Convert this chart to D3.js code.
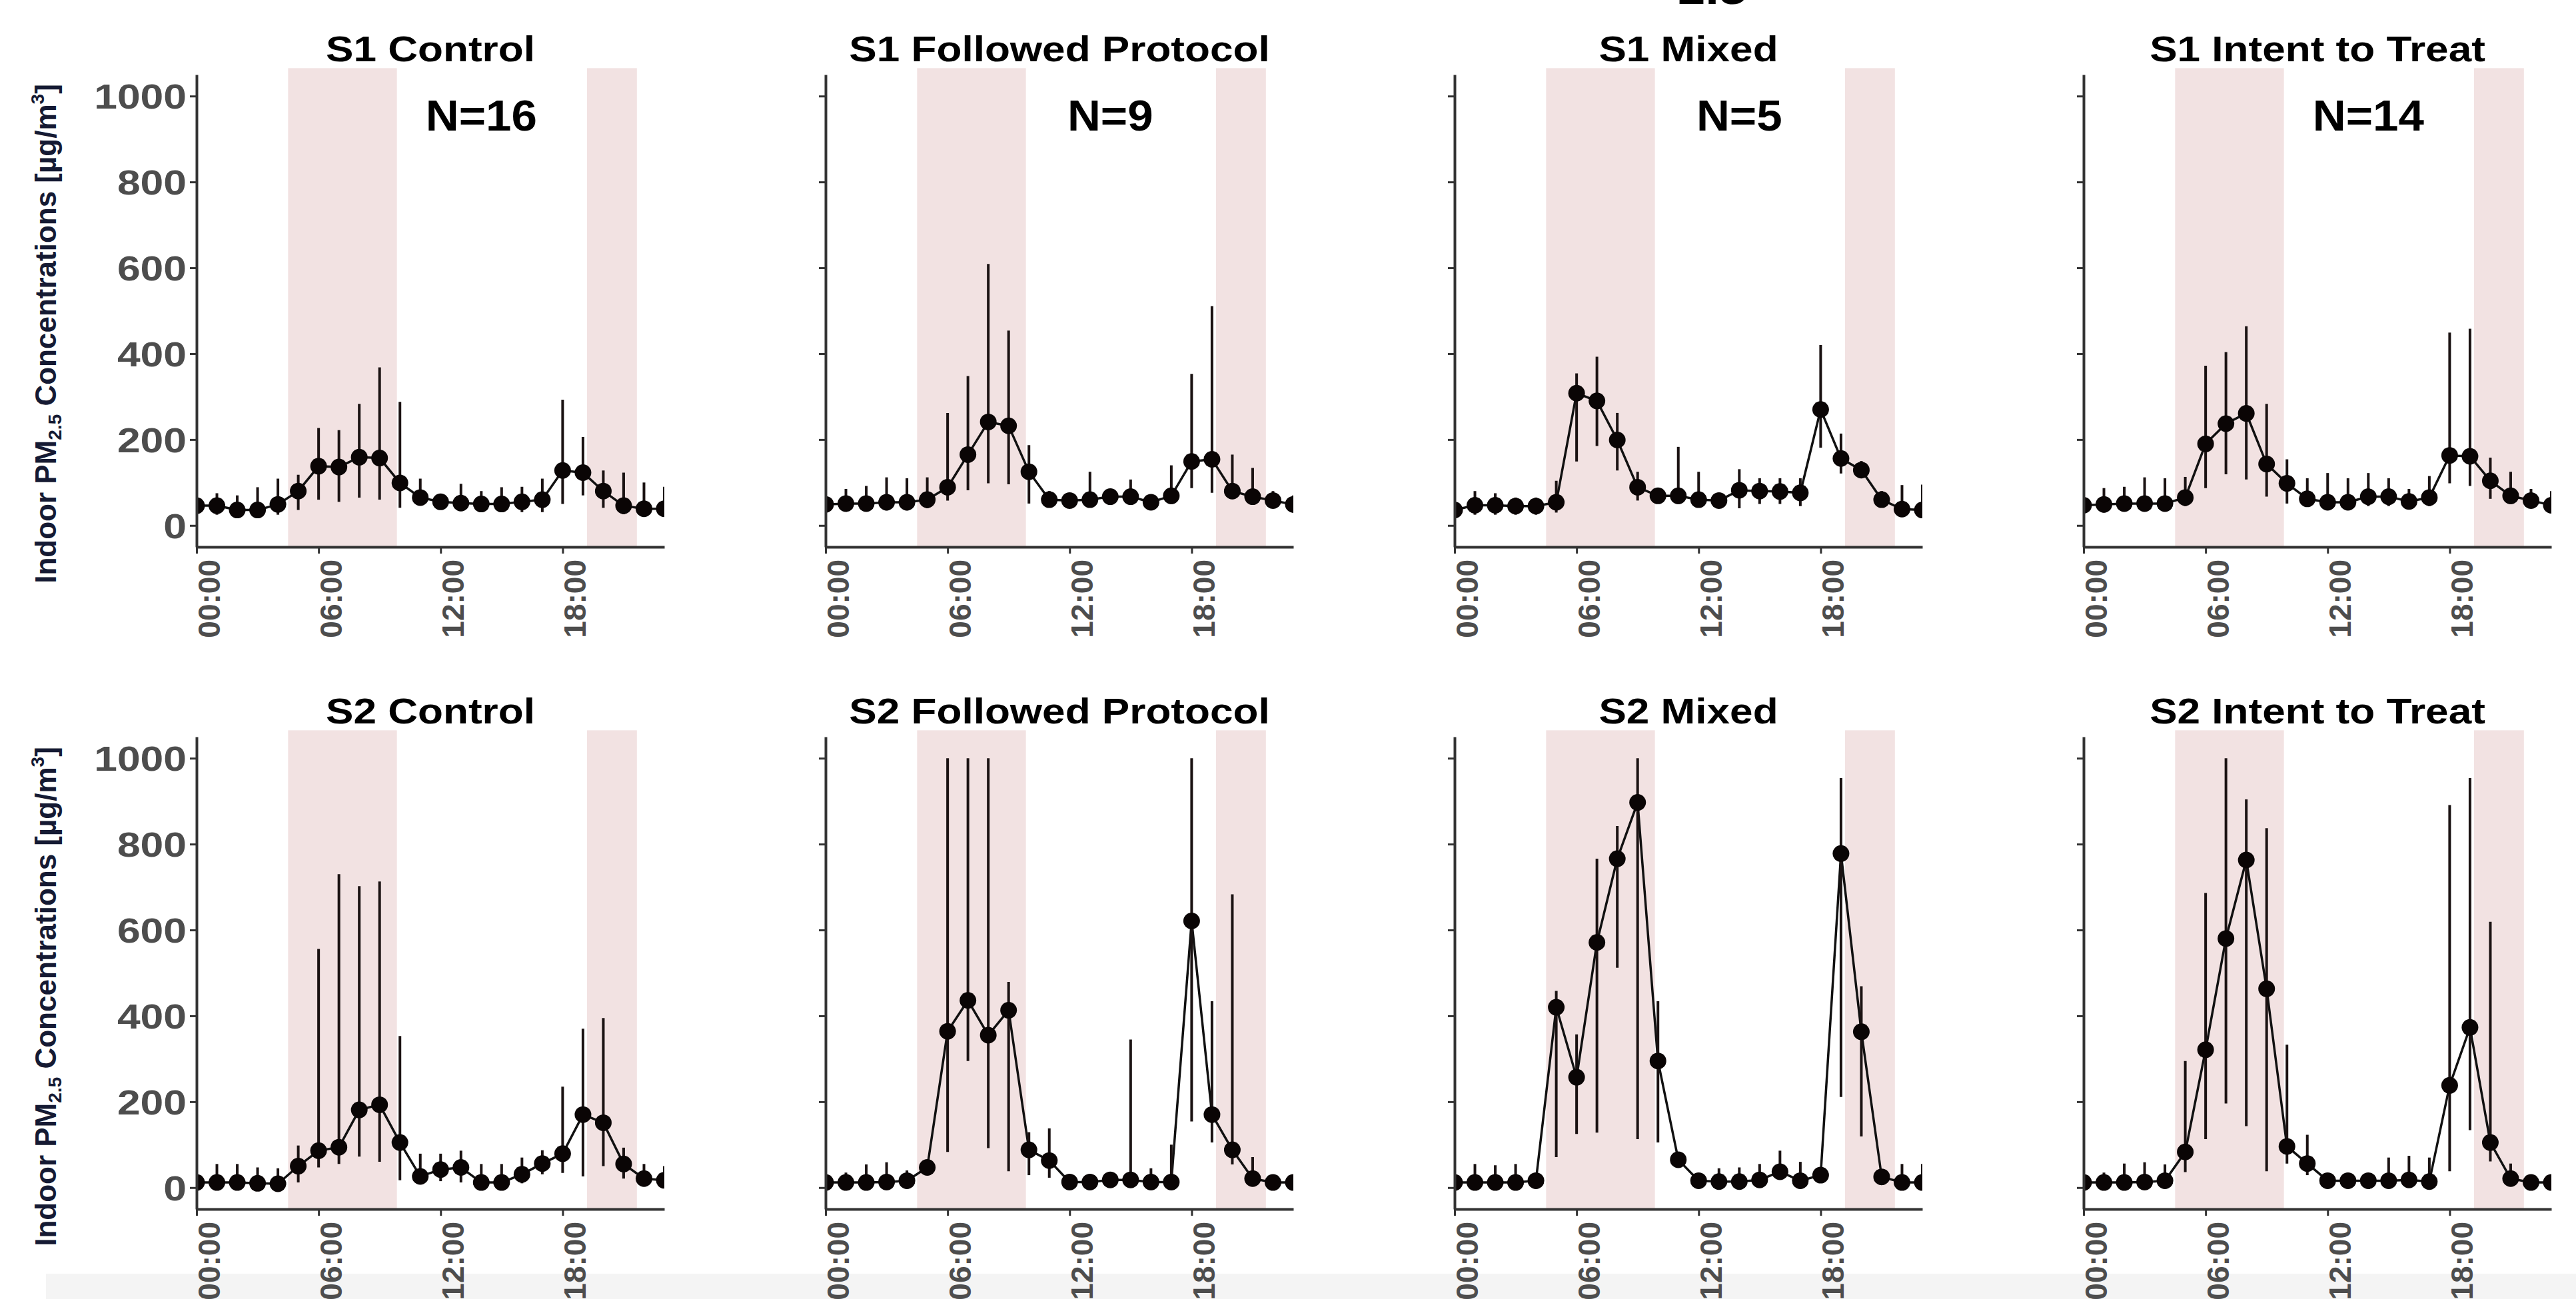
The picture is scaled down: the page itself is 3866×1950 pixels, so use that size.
<!DOCTYPE html>
<html>

<head>
  <meta charset="UTF-8">
  <title>Indoor PM2.5 by hour of day</title>
  <script src="https://d3js.org/d3.v7.min.js"></script>
  <style>
    body {
      margin: 0;
      background: #fff;
    }

    svg {
      display: block;
      font-family: "Liberation Sans", Arial, sans-serif;
      font-weight: bold;
    }

    .axis path,
    .axis line {
      stroke: #333;
    }

    .axis text {
      fill: #4d4d4d;
      font-weight: bold;
    }
  </style>
</head>

<body>
  <div id="chart"></div>
  <script>
    // hours of the day and axis labels
    var hours = [0, 1, 2, 3, 4, 5, 6, 7, 8, 9, 10, 11, 12, 13, 14, 15, 16, 17, 18, 19, 20, 21, 22, 23];
    var xTickValues = [0, 6, 12, 18];
    var xTickLabels = ["00:00", "06:00", "12:00", "18:00"];
    var yTickValues = [0, 200, 400, 600, 800, 1000];

    // shaded periods (hours)
    var shadeStart = [4.5, 19.2];
    var shadeEnd = [9.85, 21.65];

    var titles = ["S1 Control", "S1 Followed Protocol", "S1 Mixed", "S1 Intent to Treat",
      "S2 Control", "S2 Followed Protocol", "S2 Mixed", "S2 Intent to Treat"];
    var nLabels = ["N=16", "N=9", "N=5", "N=14"];

    // S1 Control
    var s1ControlMean = [46, 46, 36, 36, 49, 80, 138, 136, 159, 157, 99, 65, 55, 52, 50, 50, 55, 60, 128, 123, 80, 46, 39, 39];
    var s1ControlLo = [30, 25, 20, 20, 25, 36, 60, 55, 65, 60, 41, 50, 41, 36, 36, 31, 31, 31, 50, 70, 41, 26, 20, 20];
    var s1ControlHi = [70, 75, 70, 89, 109, 118, 227, 222, 283, 368, 288, 109, 70, 97, 80, 89, 90, 109, 293, 206, 128, 123, 100, 90];

    // S1 Followed Protocol
    var s1ProtocolMean = [49, 51, 51, 54, 54, 60, 89, 165, 241, 232, 125, 60, 58, 60, 67, 67, 54, 69, 149, 154, 80, 67, 58, 49];
    var s1ProtocolLo = [30, 35, 35, 35, 35, 40, 58, 82, 98, 96, 51, 45, 45, 45, 50, 50, 40, 50, 87, 76, 67, 50, 40, 30];
    var s1ProtocolHi = [75, 85, 92, 112, 110, 112, 262, 348, 609, 454, 187, 80, 75, 125, 85, 107, 70, 140, 353, 511, 165, 134, 80, 70];

    // S1 Mixed
    var s1MixedMean = [36, 47, 47, 45, 45, 54, 308, 290, 199, 89, 69, 69, 60, 58, 82, 80, 79, 76, 270, 156, 129, 60, 38, 36];
    var s1MixedLo = [15, 25, 25, 25, 25, 30, 149, 185, 128, 58, 55, 50, 45, 40, 40, 50, 50, 45, 181, 121, 110, 45, 20, 20];
    var s1MixedHi = [80, 80, 75, 65, 65, 104, 354, 393, 262, 125, 85, 183, 125, 75, 131, 110, 110, 110, 420, 214, 150, 80, 94, 95];

    // S1 Intent to Treat
    var s1IttMean = [47, 49, 51, 51, 51, 65, 190, 237, 261, 143, 98, 62, 54, 54, 67, 67, 56, 65, 163, 161, 104, 69, 58, 47];
    var s1IttLo = [30, 30, 35, 35, 35, 45, 87, 119, 107, 67, 51, 45, 40, 40, 45, 45, 40, 45, 98, 92, 62, 50, 40, 30];
    var s1IttHi = [75, 87, 90, 112, 110, 113, 372, 404, 464, 283, 154, 110, 122, 110, 122, 110, 85, 115, 449, 458, 158, 125, 85, 80];

    // S2 Control
    var s2ControlMean = [12, 12, 12, 10, 9, 50, 86, 94, 181, 193, 105, 26, 42, 47, 12, 12, 31, 56, 79, 170, 151, 55, 21, 17];
    var s2ControlLo = [0, 0, 0, 0, 0, 12, 47, 55, 72, 60, 17, 10, 15, 12, 0, 0, 10, 31, 34, 26, 50, 21, 5, 5];
    var s2ControlHi = [35, 55, 55, 47, 45, 98, 556, 730, 702, 713, 353, 79, 79, 86, 55, 55, 70, 87, 235, 370, 395, 93, 55, 50];

    // S2 Followed Protocol
    var s2ProtocolMean = [12, 12, 12, 13, 16, 47, 364, 436, 355, 413, 88, 63, 13, 13, 18, 18, 13, 13, 621, 170, 88, 21, 12, 12];
    var s2ProtocolLo = [0, 0, 0, 0, 5, 30, 83, 295, 92, 38, 29, 23, 5, 5, 5, 5, 5, 5, 154, 105, 54, 10, 0, 0];
    var s2ProtocolHi = [30, 35, 54, 59, 40, 65, 1000, 1000, 1000, 479, 129, 138, 25, 25, 30, 345, 45, 100, 1000, 434, 683, 71, 30, 25];

    // S2 Mixed
    var s2MixedMean = [12, 12, 12, 12, 16, 420, 257, 571, 766, 897, 295, 65, 16, 14, 14, 18, 37, 16, 29, 778, 363, 25, 12, 12];
    var s2MixedLo = [0, 0, 0, 0, 5, 71, 125, 128, 512, 113, 105, 50, 5, 5, 5, 5, 20, 5, 15, 211, 119, 15, 0, 0];
    var s2MixedHi = [50, 55, 52, 55, 35, 458, 357, 766, 842, 1000, 434, 80, 30, 45, 47, 55, 86, 60, 45, 954, 469, 40, 55, 55];

    // S2 Intent to Treat
    var s2IttMean = [12, 12, 12, 13, 16, 83, 321, 580, 763, 463, 96, 56, 16, 16, 16, 16, 18, 14, 238, 373, 105, 21, 12, 12];
    var s2IttLo = [0, 0, 0, 0, 5, 36, 113, 196, 143, 38, 56, 29, 5, 5, 5, 5, 5, 5, 38, 134, 61, 10, 0, 0];
    var s2IttHi = [30, 35, 56, 59, 54, 295, 686, 1000, 904, 837, 333, 123, 30, 30, 30, 70, 74, 70, 891, 954, 619, 56, 30, 25];

    var series = [
      [s1ControlMean, s1ControlLo, s1ControlHi],
      [s1ProtocolMean, s1ProtocolLo, s1ProtocolHi],
      [s1MixedMean, s1MixedLo, s1MixedHi],
      [s1IttMean, s1IttLo, s1IttHi],
      [s2ControlMean, s2ControlLo, s2ControlHi],
      [s2ProtocolMean, s2ProtocolLo, s2ProtocolHi],
      [s2MixedMean, s2MixedLo, s2MixedHi],
      [s2IttMean, s2IttLo, s2IttHi]
    ];

    var W = 3866, H = 1950;
    var panelW = 702, panelH = 709;
    var rowTop = [112, 1106];

    var svg = d3.select("#chart").append("svg")
      .attr("width", W)
      .attr("height", H);

    // light grey strip at the bottom of the screenshot
    svg.append("rect")
      .attr("x", 69).attr("y", 1912)
      .attr("width", W - 69).attr("height", H - 1912)
      .attr("fill", "#f4f4f4");

    // cut off figure heading at the very top
    svg.append("text")
      .attr("transform", "translate(2518,6) scale(1.2,1)")
      .attr("font-size", 62)
      .attr("fill", "#000")
      .text("2.5");

    var x = d3.scaleLinear().domain([0, 23]).range([0, panelW]);
    var y = d3.scaleLinear().domain([-50, 1050]).range([panelH, 0]);

    var defs = svg.append("defs");
    defs.append("clipPath").attr("id", "panelClip")
      .append("rect")
      .attr("x", 0).attr("y", 0)
      .attr("width", panelW).attr("height", panelH);

    var line = d3.line()
      .x(function (d) { return x(d.hour); })
      .y(function (d) { return y(d.mean); });

    titles.forEach(function (title, i) {
      var col = i % 4, row = Math.floor(i / 4);
      var px = 295 + col * 944;
      var py = rowTop[row];
      var g = svg.append("g").attr("transform", "translate(" + px + "," + py + ")");

      var s = series[i];
      var data = hours.map(function (h, k) {
        return { hour: h, mean: s[0][k], lo: s[1][k], hi: s[2][k] };
      });

      // shaded periods
      g.selectAll(".shade")
        .data(shadeStart)
        .enter().append("rect")
        .attr("class", "shade")
        .attr("x", function (d) { return x(d); })
        .attr("y", y(1065))
        .attr("width", function (d, k) { return x(shadeEnd[k]) - x(d); })
        .attr("height", y(-50) - y(1065))
        .attr("fill", "#f2e2e2");

      var plot = g.append("g").attr("clip-path", "url(#panelClip)");

      plot.append("path")
        .datum(data)
        .attr("d", line)
        .attr("fill", "none")
        .attr("stroke", "#111")
        .attr("stroke-width", 3.5);

      plot.selectAll(".err")
        .data(data)
        .enter().append("line")
        .attr("class", "err")
        .attr("x1", function (d) { return x(d.hour); })
        .attr("x2", function (d) { return x(d.hour); })
        .attr("y1", function (d) { return y(d.lo); })
        .attr("y2", function (d) { return y(d.hi); })
        .attr("stroke", "#1a1212")
        .attr("stroke-width", 4);

      plot.selectAll(".pt")
        .data(data)
        .enter().append("circle")
        .attr("class", "pt")
        .attr("cx", function (d) { return x(d.hour); })
        .attr("cy", function (d) { return y(d.mean); })
        .attr("r", 12.5)
        .attr("fill", "#0a0505");

      // y axis
      var yAxis = g.append("g")
        .attr("class", "axis")
        .call(d3.axisLeft(y)
          .tickValues(yTickValues)
          .tickSize(10)
          .tickSizeOuter(0)
          .tickFormat(col === 0 ? d3.format("d") : function () { return ""; }));
      yAxis.select(".domain").attr("stroke-width", 4);
      yAxis.selectAll(".tick line").attr("stroke-width", 3);
      yAxis.selectAll(".tick text")
        .attr("x", 0)
        .attr("dy", "0.36em")
        .attr("font-size", 52)
        .attr("transform", "translate(-15,0) scale(1.2,1)");

      // x axis
      var xAxis = g.append("g")
        .attr("class", "axis")
        .attr("transform", "translate(0," + panelH + ")")
        .call(d3.axisBottom(x)
          .tickValues(xTickValues)
          .tickSize(10)
          .tickSizeOuter(0)
          .tickFormat(function (d, k) { return xTickLabels[k]; }));
      xAxis.select(".domain").attr("stroke-width", 4);
      xAxis.selectAll(".tick line").attr("stroke-width", 3);
      xAxis.selectAll(".tick text")
        .attr("transform", "rotate(-90)")
        .attr("text-anchor", "end")
        .attr("x", -19)
        .attr("y", 34)
        .attr("dy", 0)
        .attr("font-size", 46);

      // panel title
      g.append("text")
        .attr("transform", "translate(" + (panelW / 2) + ",-20) scale(1.15,1)")
        .attr("text-anchor", "middle")
        .attr("font-size", 54)
        .attr("fill", "#000")
        .text(title);

      // sample size
      if (row === 0) {
        g.append("text")
          .attr("transform", "translate(" + x(14) + "," + y(920) + ") scale(1.08,1)")
          .attr("text-anchor", "middle")
          .attr("font-size", 64)
          .attr("fill", "#000")
          .text(nLabels[col]);
      }
    });

    // y axis titles
    [501, 1496].forEach(function (cy) {
      var t = svg.append("text")
        .attr("transform", "translate(84," + cy + ") rotate(-90)")
        .attr("text-anchor", "middle")
        .attr("font-size", 44)
        .attr("fill", "#151a33");
      t.append("tspan").text("Indoor PM");
      t.append("tspan").attr("font-size", 28).attr("dy", 8).text("2.5");
      t.append("tspan").attr("dy", -8).text(" Concentrations [µg/m");
      t.append("tspan").attr("font-size", 28).attr("dy", -18).text("3");
      t.append("tspan").attr("dy", 18).text("]");
    });
  </script>
</body>

</html>
